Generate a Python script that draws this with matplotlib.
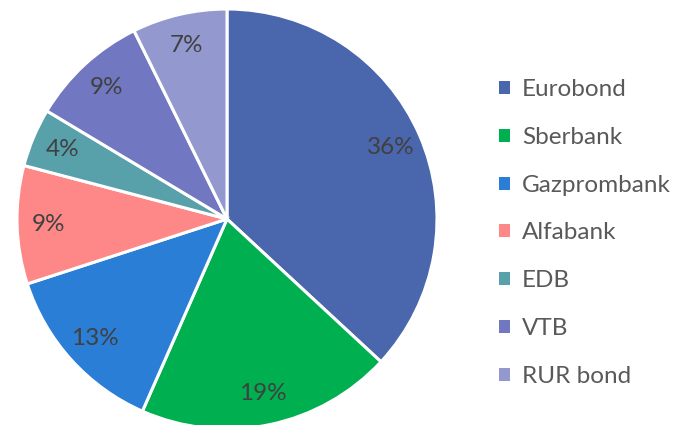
import matplotlib
matplotlib.use('Agg')
import matplotlib.pyplot as plt
import matplotlib.patches as mpatches

# shares (percent); labels in the chart are truncated
NAMES  = ['Eurobond', 'Sberbank', 'Gazprombank', 'Alfabank', 'EDB', 'VTB', 'RUR bond']
SHARES = [36.9, 19.7, 13.4, 9.1, 4.5, 9.1, 7.3]
COLORS = ['#4A66AC', '#00AF50', '#2A7ED6', '#FE8888', '#58A0AA', '#7177C0', '#9399CF']

plt.rcParams['font.family'] = ['Lato', 'DejaVu Sans']

fig = plt.figure(figsize=(6.76, 4.25), dpi=100)
# pie square of 420 px, centre at (227, 219) px from top-left
ax = fig.add_axes([17 / 676, (425 - 219 - 210) / 425, 420 / 676, 420 / 425])

wedges, texts, autotexts = ax.pie(
    SHARES, colors=COLORS, startangle=90, counterclock=False,
    autopct=lambda p: f'{int(p)}%', pctdistance=0.85,
    wedgeprops=dict(edgecolor='white', linewidth=2.2),
    textprops=dict(fontsize=17.5, color='#404040'))
ax.set_xlim(-1, 1)
ax.set_ylim(-1, 1)
ax.set_aspect('auto')
ax.axis('off')

handles = [mpatches.Patch(facecolor=c, edgecolor='none') for c in COLORS]
fig.legend(handles, NAMES, loc='center left',
           bbox_to_anchor=(499 / 676, (425 - 233) / 425),
           frameon=False, fontsize=17.5, labelcolor='#595959',
           handlelength=0.45, handleheight=0.45, handletextpad=0.5,
           labelspacing=1.1, borderpad=0, borderaxespad=0)

fig.savefig('out.png', dpi=100)
plt.close(fig)
